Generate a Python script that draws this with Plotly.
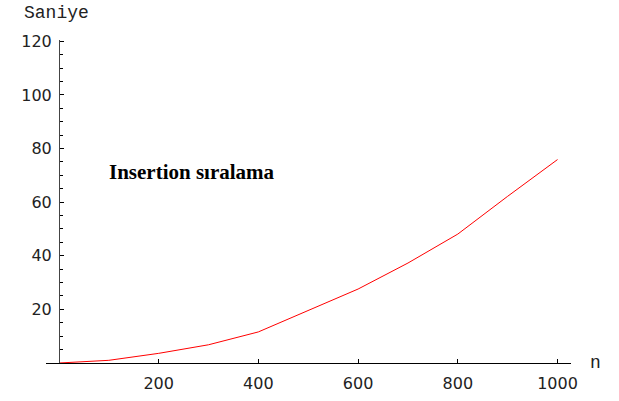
import plotly.graph_objects as go

# Insertion sort timing: input size n vs. seconds
n_values = [0, 100, 200, 300, 400, 500, 600, 700, 800, 900, 1000]
seconds = [0.0, 1.0, 3.6, 6.8, 11.6, 19.6, 27.6, 37.3, 48.1, 62.2, 75.9]

x_ticks = [200, 400, 600, 800, 1000]
y_ticks = [20, 40, 60, 80, 100, 120]

W, H = 619, 401
ML, MR, MT, MB = 46, 48, 40, 38
X_RANGE = [-26, 1027]
Y_RANGE = [0, 120.5]

plot_w = W - ML - MR
plot_h = H - MT - MB
y_axis_pos = (0 - X_RANGE[0]) / (X_RANGE[1] - X_RANGE[0])

tick_font = dict(family="DejaVu Sans", size=16, color="#222222")
mono_font = dict(family="Liberation Mono", size=18, color="#222222")

fig = go.Figure()
fig.add_trace(go.Scatter(
    x=n_values, y=seconds, mode="lines",
    line=dict(color="#ff0000", width=1),
    showlegend=False, hoverinfo="skip",
))

fig.update_layout(
    width=W, height=H,
    margin=dict(l=ML, r=MR, t=MT, b=MB, pad=0, autoexpand=False),
    paper_bgcolor="white", plot_bgcolor="white",
    xaxis=dict(
        range=X_RANGE, showgrid=False, zeroline=False, automargin=False,
        showline=True, linecolor="black", linewidth=1,
        tickmode="array", tickvals=x_ticks,
        ticks="inside", ticklen=4, tickcolor="black", tickwidth=1,
        tickfont=tick_font, ticklabelstandoff=6,
    ),
    yaxis=dict(
        range=Y_RANGE, showgrid=False, zeroline=False, automargin=False,
        anchor="free", position=y_axis_pos,
        showline=True, linecolor="#444444", linewidth=1,
        tickmode="array", tickvals=y_ticks,
        ticks="inside", ticklen=4, tickcolor="black", tickwidth=1,
        minor=dict(dtick=5, ticks="inside", ticklen=3,
                   tickcolor="black", tickwidth=1, showgrid=False),
        tickfont=tick_font, ticklabelstandoff=4,
    ),
    annotations=[
        dict(text="Saniye", xref="paper", yref="paper",
             x=(56 - ML) / plot_w, y=1 + (MT - 13) / plot_h,
             xanchor="center", yanchor="middle", showarrow=False,
             font=mono_font),
        dict(text="n", xref="paper", yref="y",
             x=(595 - ML) / plot_w, y=0,
             xanchor="center", yanchor="middle", showarrow=False,
             font=mono_font),
        dict(text="<b>Insertion sıralama</b>", xref="x", yref="y",
             x=267, y=71.4, xanchor="center", yanchor="middle",
             showarrow=False,
             font=dict(family="Liberation Serif", size=21, color="black")),
    ],
)

fig.write_html("out.html")
